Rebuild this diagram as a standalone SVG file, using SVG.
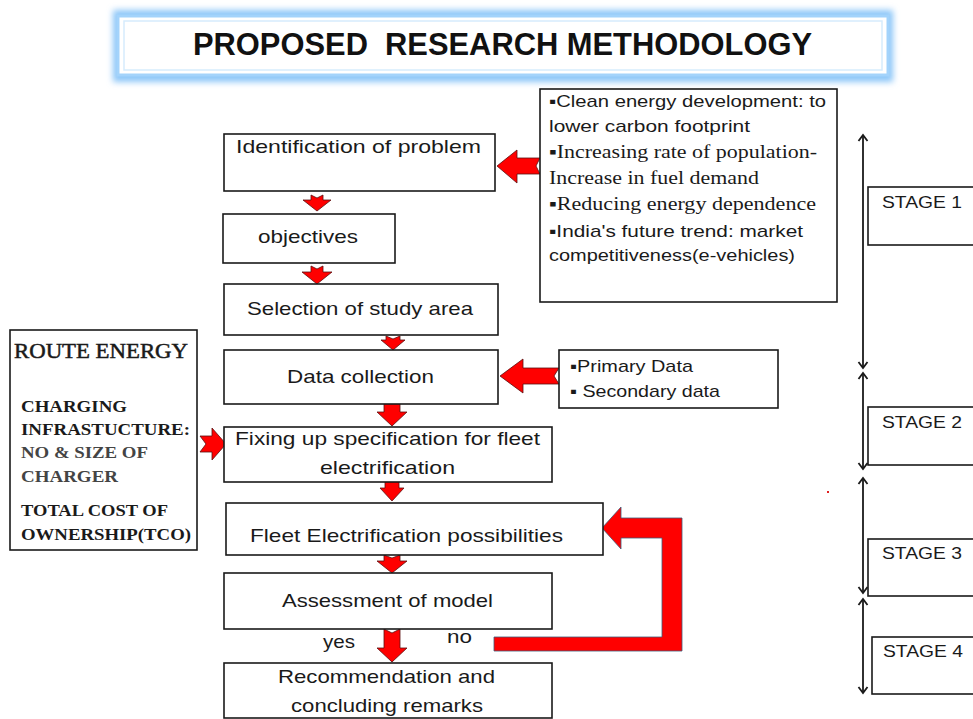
<svg xmlns="http://www.w3.org/2000/svg" width="973" height="719" viewBox="0 0 973 719">
<style>
.box{fill:#fff;stroke:#1a1a1a;stroke-width:1.6}
.s{font-family:"Liberation Sans",Arial,sans-serif;font-size:19px;fill:#1a1a1a}
.sm{font-family:"Liberation Sans",Arial,sans-serif;font-size:17px;fill:#1a1a1a}
.sr{font-family:"Liberation Serif","Times New Roman",serif;font-size:18px;fill:#1a1a1a}
.rb{font-family:"Liberation Serif","Times New Roman",serif;font-size:17px;font-weight:bold;fill:#1a1a1a}
.ar{fill:#ff0000;stroke:#5a1010;stroke-width:0.8;stroke-linejoin:miter}
.st{stroke:#1a1a1a;stroke-width:1.8;fill:none}
</style>
<defs>
<filter id="glow" x="-5%" y="-30%" width="110%" height="160%">
<feGaussianBlur stdDeviation="3"/>
</filter>
<marker id="chev" viewBox="-10 -6 12 12" markerWidth="12" markerHeight="12" refX="0" refY="0" orient="auto-start-reverse" markerUnits="userSpaceOnUse">
<path d="M-6,-4.5 L0,0 L-6,4.5" fill="none" stroke="#1a1a1a" stroke-width="1.8"/>
</marker>
</defs>

<g id="title">
<rect x="113" y="10" width="780" height="72" fill="#8cc6f8" filter="url(#glow)"/>
<rect x="118" y="16" width="770" height="59" fill="#fff" stroke="#a3d3fb" stroke-width="3"/>
<rect x="124" y="21" width="758" height="49" fill="#fff" stroke="#d6ecfd" stroke-width="1.5"/>
<text x="193" y="55" xml:space="preserve" textLength="619" lengthAdjust="spacingAndGlyphs" style="font-family:'Liberation Sans',Arial,sans-serif;font-size:31px;font-weight:bold;fill:#111">PROPOSED  RESEARCH METHODOLOGY</text>
</g>

<g id="connectors">
<polygon class="ar" points="311,195 317,198 323,195 323,200 331,200 317,211 303,200 311,200"/>
<polygon class="ar" points="311,266 317,269 323,266 323,272 332,272 317,284 302,272 311,272"/>
<polygon class="ar" points="386,336 393,339 400,336 400,340 405,340 393,350 381,340 386,340"/>
<polygon class="ar" points="384,399 392,403 400,399 400,412 407,412 392,426 377,412 384,412"/>
<polygon class="ar" points="385,478 392,481 399,478 399,488 404,488 392,501 380,488 385,488"/>
<polygon class="ar" points="384,555 392,558 400,555 400,561 407,561 392,573 377,561 384,561"/>
<polygon class="ar" points="384,629 392,633 400,629 400,648 407,648 392,662 377,648 384,648"/>
<polygon class="ar" points="497,166 517,150 517,158 540,158 536,166 540,174 517,174 517,183"/>
<polygon class="ar" points="500,376 523,359 523,368 559,368 554,376 559,384 523,384 523,393"/>
<polygon class="ar" points="200,436 212,436 212,428 226,444 212,460 212,452 200,452 206,444"/>
<polygon class="ar" style="stroke:#3d5a78" points="494,637 662,637 662,538 621,538 621,549 602,528 621,507 621,518 682,518 682,651 494,651"/>
<line class="st" x1="863" y1="135" x2="863" y2="368" marker-start="url(#chev)" marker-end="url(#chev)"/>
<line class="st" x1="863" y1="373" x2="863" y2="469" marker-start="url(#chev)" marker-end="url(#chev)"/>
<line class="st" x1="863" y1="478" x2="863" y2="593" marker-start="url(#chev)" marker-end="url(#chev)"/>
<line class="st" x1="863" y1="599" x2="863" y2="693" marker-start="url(#chev)" marker-end="url(#chev)"/>
</g>

<g id="reasons">
<rect class="box" x="540" y="89" width="297" height="213"/>
<text class="sm" x="549" y="107" textLength="277" lengthAdjust="spacingAndGlyphs">▪Clean energy development: to</text>
<text class="sm" x="549" y="132" textLength="201" lengthAdjust="spacingAndGlyphs">lower carbon footprint</text>
<text class="sr" x="549" y="158" textLength="268" lengthAdjust="spacingAndGlyphs">▪Increasing rate of population-</text>
<text class="sr" x="549" y="184" textLength="210" lengthAdjust="spacingAndGlyphs">Increase in fuel demand</text>
<text class="sr" x="549" y="210" textLength="267" lengthAdjust="spacingAndGlyphs">▪Reducing energy dependence</text>
<text class="sm" x="549" y="237" textLength="254" lengthAdjust="spacingAndGlyphs">▪India's future trend: market</text>
<text class="sm" x="549" y="261" textLength="246" lengthAdjust="spacingAndGlyphs">competitiveness(e-vehicles)</text>
</g>

<g id="identification">
<rect class="box" x="224" y="134" width="271" height="57"/>
<text class="s" x="236" y="153" textLength="245" lengthAdjust="spacingAndGlyphs">Identification of problem</text>
</g>

<g id="objectives">
<rect class="box" x="223" y="214" width="172" height="49"/>
<text class="s" x="258" y="243" textLength="100" lengthAdjust="spacingAndGlyphs">objectives</text>
</g>

<g id="selection">
<rect class="box" x="224" y="284" width="274" height="51"/>
<text class="s" x="247" y="315" textLength="226" lengthAdjust="spacingAndGlyphs">Selection of study area</text>
</g>

<g id="data-collection">
<rect class="box" x="224" y="350" width="274" height="54"/>
<text class="s" x="287" y="383" textLength="147" lengthAdjust="spacingAndGlyphs">Data collection</text>
</g>

<g id="data-types">
<rect class="box" x="559" y="350" width="219" height="58"/>
<text class="sm" x="570" y="372" textLength="123" lengthAdjust="spacingAndGlyphs">▪Primary Data</text>
<text class="sm" x="570" y="397" textLength="150" lengthAdjust="spacingAndGlyphs">▪ Secondary data</text>
</g>

<g id="route-energy">
<rect class="box" x="10" y="330" width="187" height="220"/>
<text x="14" y="358" textLength="174" lengthAdjust="spacingAndGlyphs" style="font-family:'Liberation Serif','Times New Roman',serif;font-size:21px;fill:#1a1a1a;stroke:#1a1a1a;stroke-width:0.5">ROUTE ENERGY</text>
<text class="rb" x="21" y="412" textLength="106" lengthAdjust="spacingAndGlyphs">CHARGING</text>
<text class="rb" x="21" y="435" textLength="169" lengthAdjust="spacingAndGlyphs">INFRASTUCTURE:</text>
<text class="rb" x="21" y="458" textLength="127" lengthAdjust="spacingAndGlyphs" style="fill:#444">NO &amp; SIZE OF</text>
<text class="rb" x="21" y="482" textLength="97" lengthAdjust="spacingAndGlyphs" style="fill:#444">CHARGER</text>
<text class="rb" x="21" y="516" textLength="147" lengthAdjust="spacingAndGlyphs">TOTAL COST OF</text>
<text class="rb" x="21" y="540" textLength="170" lengthAdjust="spacingAndGlyphs">OWNERSHIP(TCO)</text>
</g>

<g id="specification">
<rect class="box" x="224" y="427" width="328" height="55"/>
<text class="s" x="235" y="445" textLength="305" lengthAdjust="spacingAndGlyphs">Fixing up specification for fleet</text>
<text class="s" x="320" y="474" textLength="135" lengthAdjust="spacingAndGlyphs">electrification</text>
</g>

<g id="possibilities">
<rect class="box" x="226" y="503" width="377" height="52"/>
<text class="s" x="250" y="542" textLength="313" lengthAdjust="spacingAndGlyphs">Fleet Electrification possibilities</text>
</g>

<g id="assessment">
<rect class="box" x="224" y="573" width="328" height="56"/>
<text class="s" x="282" y="607" textLength="211" lengthAdjust="spacingAndGlyphs">Assessment of model</text>
</g>

<g id="labels">
<text class="s" x="323" y="648" textLength="32" lengthAdjust="spacingAndGlyphs">yes</text>
<text class="s" x="447" y="643" textLength="25" lengthAdjust="spacingAndGlyphs">no</text>
</g>

<g id="recommendation">
<rect class="box" x="224" y="663" width="328" height="55"/>
<text class="s" x="278" y="683" textLength="217" lengthAdjust="spacingAndGlyphs">Recommendation and</text>
<text class="s" x="291" y="712" textLength="192" lengthAdjust="spacingAndGlyphs">concluding remarks</text>
</g>

<g id="stage1">
<rect class="box" x="868" y="187" width="115" height="58"/>
<text class="sm" x="882" y="208" textLength="80" lengthAdjust="spacingAndGlyphs">STAGE 1</text>
</g>
<g id="stage2">
<rect class="box" x="868" y="407" width="115" height="58"/>
<text class="sm" x="882" y="428" textLength="80" lengthAdjust="spacingAndGlyphs">STAGE 2</text>
</g>
<g id="stage3">
<rect class="box" x="868" y="539" width="115" height="57"/>
<text class="sm" x="882" y="559" textLength="80" lengthAdjust="spacingAndGlyphs">STAGE 3</text>
</g>
<g id="stage4">
<rect class="box" x="872" y="637" width="115" height="57"/>
<text class="sm" x="883" y="657" textLength="80" lengthAdjust="spacingAndGlyphs">STAGE 4</text>
</g>
<rect x="827" y="491" width="2" height="2" fill="#e02020"/>
</svg>
